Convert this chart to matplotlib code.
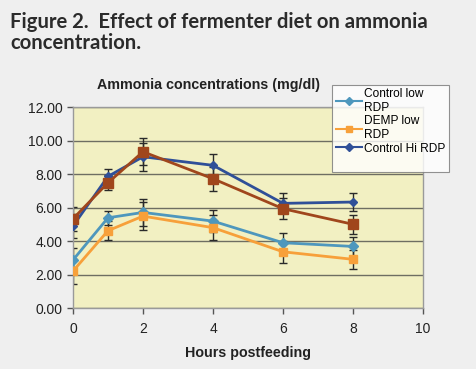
import matplotlib
matplotlib.use("Agg")
import matplotlib.pyplot as plt
from matplotlib.ticker import FormatStrFormatter
from matplotlib.lines import Line2D

hours = [0, 1, 2, 4, 6, 8]
control_low = [2.87, 5.39, 5.71, 5.19, 3.90, 3.68]
control_low_err = [0.70, 0.42, 0.80, 0.66, 0.56, 0.55]
demp_low = [2.21, 4.62, 5.49, 4.80, 3.36, 2.91]
demp_low_err = [0.75, 0.56, 0.85, 0.74, 0.66, 0.56]
control_hi = [4.90, 7.86, 9.03, 8.52, 6.25, 6.33]
control_hi_err = [0.70, 0.42, 0.85, 0.65, 0.60, 0.55]
demp_hi = [5.33, 7.48, 9.33, 7.72, 5.93, 5.00]
demp_hi_err = [0.70, 0.45, 0.80, 0.72, 0.63, 0.55]

labels = ["Control low\nRDP", "DEMP low\nRDP", "Control Hi RDP", "DEMP Hi RDP"]
colors = ["#4e97bd", "#f7a03a", "#2f4f98", "#a0461c"]

fig = plt.figure(figsize=(4.77, 3.69), dpi=100)
fig.patch.set_facecolor("#efefef")

fig.text(0.021, 0.968, "Figure 2.  Effect of fermenter diet on ammonia\nconcentration.",
         family="Lato", weight="bold", fontsize=14.6, color="#2b2b2b",
         va="top", ha="left", linespacing=1.1)

ax = fig.add_axes([0.153, 0.165, 0.734, 0.545])
ax.set_facecolor("#f2f0c2")
ax.set_xlim(0, 10)
ax.set_ylim(0, 12)
ax.set_xticks(range(0, 11, 2))
ax.set_yticks(range(0, 13, 2))
ax.yaxis.set_major_formatter(FormatStrFormatter("%.2f"))
ax.grid(axis="y", color="#6e6e62", linewidth=1.0)
ax.set_axisbelow(True)
for s in ax.spines.values():
    s.set_color("#9a9a9a")
    s.set_linewidth(1.0)
ax.tick_params(direction="out", length=4, color="#555555", labelsize=10,
               labelcolor="#222222", width=1)
ax.tick_params(axis="x", pad=6)
for t in ax.get_xticklabels() + ax.get_yticklabels():
    t.set_family("Liberation Sans")

series = [
    (control_low, control_low_err, "D", 5),
    (demp_low, demp_low_err, "s", 5.5),
    (control_hi, control_hi_err, "D", 4.5),
    (demp_hi, demp_hi_err, "s", 7),
]
handles = []
for (vals, err, m, ms), lab, c in zip(series, labels, colors):
    ax.errorbar(hours, vals, yerr=err, fmt="none", ecolor="#2a2a2a",
                elinewidth=1.0, capsize=3, capthick=1.0, zorder=2)
    h, = ax.plot(hours, vals, color=c, marker=m, markersize=ms, linewidth=2,
                 label=lab, zorder=3)
    handles.append(h)

ax.set_title("Ammonia concentrations (mg/dl)", family="Liberation Sans",
             weight="bold", fontsize=10.3, color="#222222", pad=13, x=0.386)
ax.set_xlabel("Hours postfeeding", family="Liberation Sans", weight="bold",
              fontsize=10.3, color="#222222", labelpad=7)

blank = Line2D([], [], linestyle="none", marker=None)
leg = fig.legend(handles[:3] + [blank], labels[:3] + [" "], loc="upper left",
                 bbox_to_anchor=(0.696, 0.771), frameon=True, fancybox=False,
                 prop={"family": "Liberation Sans", "size": 8.6},
                 handlelength=2.2, handletextpad=0.2, borderpad=0.3,
                 labelspacing=0.12, borderaxespad=0)
leg.get_frame().set_edgecolor("#777777")
leg.get_frame().set_linewidth(0.8)
for h in leg.legend_handles[:3]:
    h.set_markersize(4)
    h.set_linewidth(1.5)

fig.savefig("out.png", dpi=100, facecolor=fig.get_facecolor())
